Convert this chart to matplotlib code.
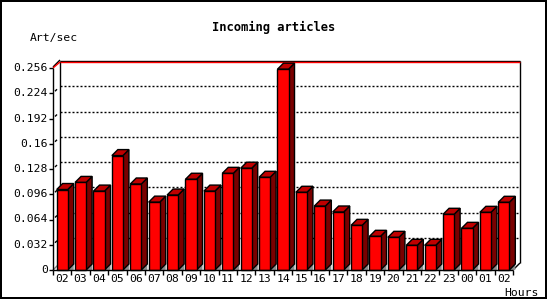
import matplotlib
matplotlib.use("Agg")
import matplotlib.pyplot as plt
from matplotlib.patches import Polygon, Rectangle
from matplotlib.lines import Line2D

plt.rcParams['lines.scale_dashes'] = False

title = "Incoming articles"
y_label = "Art/sec"
x_label = "Hours"
hours = ["02", "03", "04", "05", "06", "07", "08", "09", "10", "11", "12", "13",
         "14", "15", "16", "17", "18", "19", "20", "21", "22", "23", "00", "01", "02"]
values = [0.102, 0.111, 0.100, 0.145, 0.109, 0.086, 0.095, 0.115, 0.100, 0.1225,
          0.129, 0.1175, 0.2545, 0.0985, 0.081, 0.0735, 0.0566, 0.0427, 0.0414,
          0.0313, 0.0313, 0.0706, 0.0528, 0.0731, 0.0858]
y_ticks = [0, 0.032, 0.064, 0.096, 0.128, 0.16, 0.192, 0.224, 0.256]
y_tick_labels = ["0", "0.032", "0.064", "0.096", "0.128", "0.16", "0.192", "0.224", "0.256"]

W, H = 550, 300
fig = plt.figure(figsize=(W / 100, H / 100), dpi=100)
fig.patch.set_facecolor("white")

L, R, B, T = 53, 513, 270, 68  # pixel positions of front plane
ax = fig.add_axes([L / W, (H - B) / H, (R - L) / W, (B - T) / H])
n = len(values)
ymax = y_ticks[-1]
ax.set_xlim(-0.5, n - 0.5)
ax.set_ylim(0, ymax)
ax.axis("off")

px = n / (R - L)          # data units per pixel in x
py = ymax / (B - T)       # data units per pixel in y
wdx, wdy = 7 * px, 7 * py  # back wall offset
bdx, bdy = 6 * px, 6 * py  # bar depth
x0, x1 = -0.5, n - 0.5
LW = 1.0

def line(xs, ys, **kw):
    kw.setdefault("color", "black")
    kw.setdefault("lw", LW)
    ax.add_line(Line2D(xs, ys, clip_on=False, solid_capstyle="butt", **kw))

# back wall grid
for t in y_ticks[1:-1]:
    line([x0 + wdx, x1 + wdx], [t + wdy, t + wdy], ls=(0, (1.44, 1.44)), zorder=1)
    line([x0 + 2 * px, x0 + 4 * px], [t + 2 * py, t + 4 * py], zorder=1)
# back wall frame
line([x0 + wdx, x0 + wdx], [wdy, ymax + wdy], zorder=1)
line([x1 + wdx, x1 + wdx], [wdy, ymax + wdy], zorder=1)
line([x0 + wdx, x1 + wdx], [ymax + wdy, ymax + wdy], zorder=1)
line([x0 + wdx, x1 + wdx], [ymax + wdy - py, ymax + wdy - py], color="red", zorder=1.1)
line([x0, x0 + wdx], [ymax + py, ymax + wdy + py], zorder=1)
line([x0, x0 + wdx], [ymax, ymax + wdy - py], color="red", zorder=1.1)
line([x0, x0 + wdx], [0, wdy], color="gray", zorder=1)
line([x1, x1 + wdx], [0, wdy], zorder=1)

# bars
bw = 0.6
for i, v in enumerate(values):
    xl, xr = i - bw / 2, i + bw / 2
    ax.add_patch(Polygon([(xr, 0), (xr + bdx, bdy), (xr + bdx, 0)], closed=True,
                         facecolor="#8c8c8c", edgecolor="none", zorder=2, clip_on=False))
    ax.add_patch(Polygon([(xr, 0), (xr + bdx, bdy), (xr + bdx, v + bdy), (xr, v)], closed=True,
                         facecolor="#7a0000", edgecolor="black", lw=LW, zorder=3, clip_on=False))
    ax.add_patch(Polygon([(xl, v), (xl + bdx, v + bdy), (xr + bdx, v + bdy), (xr, v)], closed=True,
                         facecolor="#c00000", edgecolor="black", lw=LW, zorder=3, clip_on=False))
    ax.add_patch(Rectangle((xl, 0), bw, v, facecolor="#ff0000", edgecolor="black",
                           lw=LW, zorder=4, clip_on=False))

# front axes
line([x0, x0], [0, ymax], zorder=5)
line([x0, x1], [0, 0], zorder=5)
for t, lab in zip(y_ticks, y_tick_labels):
    line([x0 - 4 * px, x0], [t, t], zorder=5)
    ax.text(x0 - 5 * px, t, lab, ha="right", va="center", family="DejaVu Sans Mono",
            fontsize=8.2, clip_on=False)
for k in range(n + 1):
    xb = k - 0.5
    line([xb, xb], [0, -5 * py], zorder=5)
for i, lab in enumerate(hours):
    ax.text(i, -9 * py, lab, ha="center", va="center", family="DejaVu Sans Mono",
            fontsize=8.2, clip_on=False)

fig.text(274 / W, 1 - 27 / H, title, ha="center", va="center", family="DejaVu Sans Mono",
         fontsize=8.7, fontweight="bold")
fig.text(30 / W, 1 - 37.5 / H, y_label, ha="left", va="center", family="DejaVu Sans Mono",
         fontsize=8.2)
fig.text(504 / W, 1 - 292.5 / H, x_label, ha="left", va="center", family="DejaVu Sans Mono",
         fontsize=8.2)

fig.add_artist(Rectangle((1 / W, 2 / H), 545 / W, 297 / H, transform=fig.transFigure,
                         fill=False, edgecolor="black", lw=1.44))

fig.savefig("out.png", dpi=100)
